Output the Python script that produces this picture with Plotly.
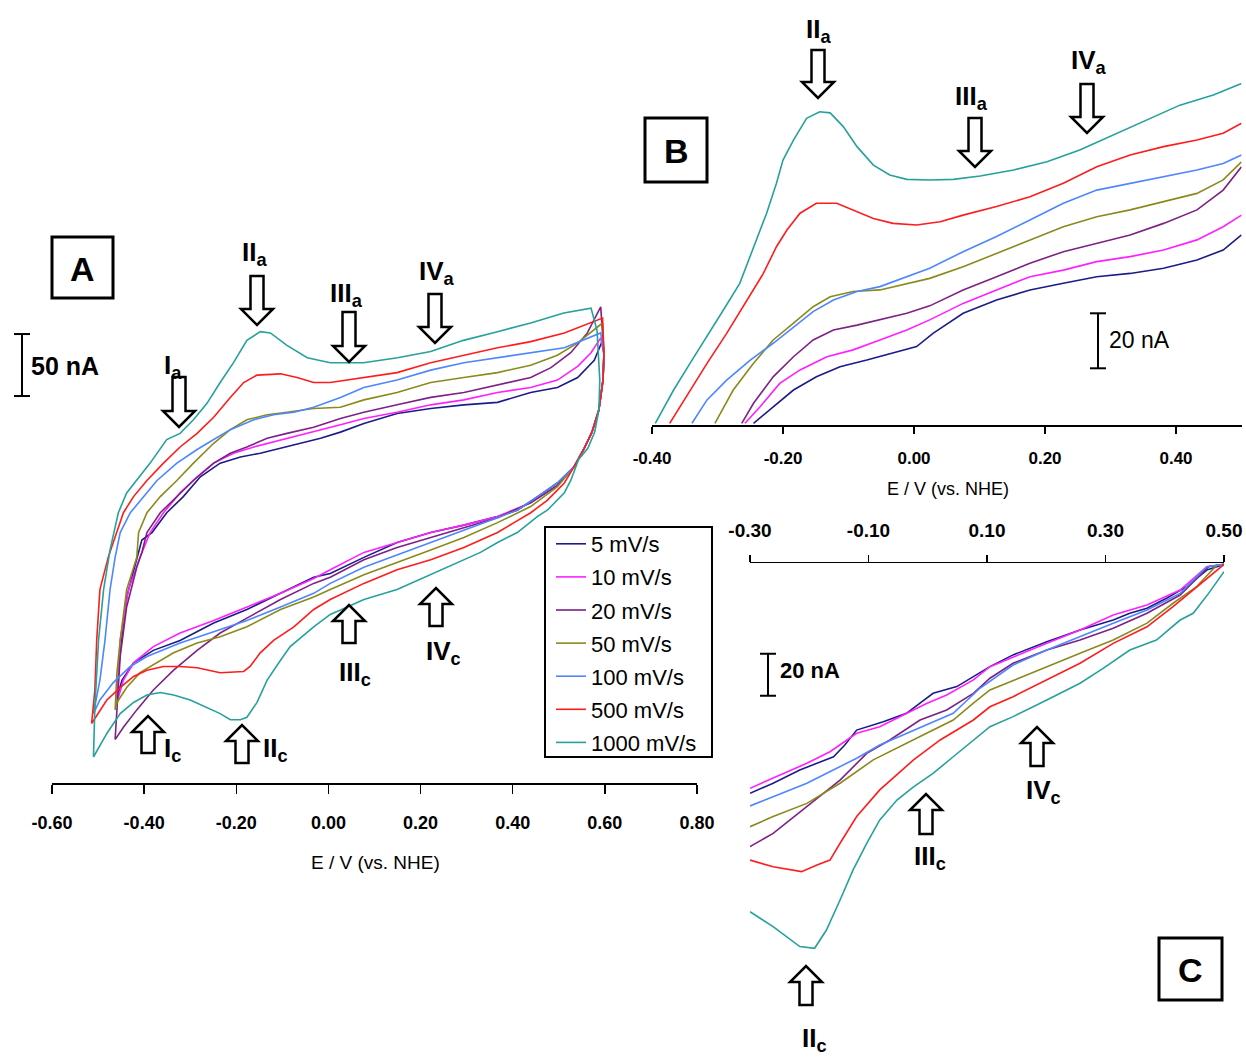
import plotly.graph_objects as go

W, H = 1246, 1059

SCAN_RATES = ["5 mV/s", "10 mV/s", "20 mV/s", "50 mV/s", "100 mV/s", "500 mV/s", "1000 mV/s"]
COLORS = ["#1c1c88", "#ff20ff", "#7e2185", "#8a8a1c", "#4d86ff", "#ff1c1c", "#26a19b"]

# ---------------- Panel A : full cyclic voltammograms (E / V, I / nA) ----------------
A_E_5 = [-0.459, -0.452, -0.438, -0.416, -0.405, -0.383, -0.351, -0.315, -0.278, -0.235, -0.191, -0.148, -0.104,
         -0.061, -0.017, 0.026, 0.077, 0.149, 0.222, 0.294, 0.367, 0.439, 0.497, 0.541, 0.577, 0.595,
         0.598, 0.596, 0.587, 0.572, 0.554,
         0.533, 0.497, 0.454, 0.410, 0.367, 0.294, 0.222, 0.149, 0.077, 0.004, -0.032, -0.104, -0.177, -0.249,
         -0.322, -0.380, -0.423, -0.448, -0.459]
A_I_5 = [-127, -89, -46, -16, 0, 6, 22, 35, 51, 62, 67, 70, 74, 78, 82, 87, 94, 102, 106, 109, 111, 119, 123, 131,
         145, 161,
         150, 129, 105, 87, 73,
         59, 46, 35, 24, 19, 12, 6, -2, -14, -27, -30, -43, -56, -67, -81, -89, -99, -113, -127]

A_E_10 = [-0.459, -0.452, -0.434, -0.409, -0.387, -0.358, -0.322, -0.285, -0.249, -0.206, -0.162, -0.119, -0.075,
          -0.032, 0.026, 0.077, 0.149, 0.222, 0.294, 0.367, 0.439, 0.497, 0.541, 0.570, 0.591,
          0.598, 0.596, 0.587, 0.572, 0.554,
          0.533, 0.497, 0.439, 0.367, 0.294, 0.222, 0.149, 0.077, 0.004, -0.032, -0.104, -0.177, -0.249, -0.322,
          -0.380, -0.423, -0.445, -0.459]
A_I_10 = [-131, -81, -40, -14, 6, 22, 38, 51, 62, 70, 75, 79, 83, 87, 93, 98, 103, 109, 113, 119, 123, 129, 140,
          151, 163,
          150, 129, 105, 87, 73,
          59, 44, 30, 19, 12, 6, -2, -10, -24, -31, -43, -54, -65, -75, -86, -99, -113, -131]

A_E_20 = [-0.463, -0.459, -0.452, -0.438, -0.416, -0.405, -0.394, -0.365, -0.329, -0.293, -0.249, -0.213, -0.177,
          -0.133, -0.090, -0.032, 0.026, 0.077, 0.149, 0.222, 0.294, 0.367, 0.439, 0.483, 0.526, 0.562, 0.591,
          0.598, 0.596, 0.587, 0.572, 0.554,
          0.533, 0.497, 0.439, 0.367, 0.294, 0.222, 0.149, 0.077, 0.004, -0.032, -0.104, -0.177, -0.235, -0.285,
          -0.336, -0.380, -0.416, -0.445, -0.463]
A_I_20 = [-161, -135, -94, -54, -22, -10, 6, 22, 35, 48, 62, 70, 75, 82, 86, 91, 98, 103, 109, 115, 119, 125, 131,
          139, 151, 167, 188,
          150, 129, 105, 87, 73,
          59, 44, 30, 18, 10, 2, -6, -16, -30, -35, -48, -63, -75, -89, -105, -121, -137, -151, -161]

A_E_50 = [-0.463, -0.459, -0.452, -0.438, -0.416, -0.412, -0.394, -0.365, -0.329, -0.293, -0.249, -0.213, -0.177,
          -0.133, -0.090, -0.032, 0.026, 0.077, 0.149, 0.222, 0.294, 0.367, 0.439, 0.497, 0.541, 0.595,
          0.598, 0.596, 0.587, 0.572, 0.554,
          0.533, 0.497, 0.439, 0.367, 0.294, 0.222, 0.149, 0.077, 0.004, -0.032, -0.104, -0.177, -0.235, -0.285,
          -0.336, -0.372, -0.409, -0.438, -0.459, -0.463]
A_I_50 = [-137, -107, -81, -40, -14, 6, 22, 35, 48, 62, 78, 89, 97, 101, 103, 106, 107, 113, 119, 127, 131, 135,
          141, 149, 159, 175,
          150, 129, 105, 87, 73,
          59, 43, 27, 14, 2, -8, -18, -28, -40, -46, -56, -70, -78, -83, -91, -99, -107, -119, -131, -137]

A_E_100 = [-0.510, -0.496, -0.485, -0.474, -0.463, -0.452, -0.430, -0.402, -0.372, -0.329, -0.285, -0.249, -0.213,
           -0.162, -0.119, -0.075, -0.032, 0.026, 0.077, 0.149, 0.222, 0.294, 0.367, 0.439, 0.512, 0.591,
           0.598, 0.596, 0.587, 0.572, 0.554,
           0.533, 0.497, 0.454, 0.410, 0.367, 0.294, 0.222, 0.149, 0.077, 0.004, -0.032, -0.104, -0.177, -0.249,
           -0.322, -0.394, -0.430, -0.467, -0.496, -0.510]
A_I_100 = [-140, -113, -81, -40, -14, 6, 22, 35, 48, 62, 73, 81, 89, 97, 101, 103, 107, 115, 123, 129, 137, 143,
           147, 151, 155, 167,
           150, 129, 105, 87, 73,
           59, 46, 35, 24, 18, 8, -2, -12, -22, -35, -43, -54, -65, -74, -83, -94, -102, -115, -129, -140]

A_E_500 = [-0.514, -0.507, -0.503, -0.496, -0.478, -0.459, -0.445, -0.423, -0.394, -0.358, -0.322, -0.285, -0.249,
           -0.213, -0.184, -0.155, -0.104, -0.068, -0.032, 0.004, 0.077, 0.149, 0.222, 0.294, 0.367, 0.439, 0.512,
           0.595,
           0.598, 0.596, 0.587, 0.572, 0.554,
           0.533, 0.512, 0.475, 0.439, 0.403, 0.367, 0.294, 0.222, 0.149, 0.077, 0.004, -0.032, -0.075, -0.119,
           -0.148, -0.170, -0.184, -0.235, -0.285, -0.322, -0.358, -0.394, -0.423, -0.452, -0.481, -0.514]
A_I_500 = [-148, -121, -81, -40, -14, 6, 22, 35, 48, 62, 75, 86, 99, 115, 127, 133, 134, 131, 127, 127, 131, 135,
           143, 149, 155, 160, 167, 179,
           150, 129, 105, 87, 73,
           59, 46, 32, 22, 14, 6, -6, -16, -24, -35, -48, -56, -70, -81, -91, -102, -106, -107, -103, -102, -102,
           -105, -110, -119, -129, -148]

A_E_1000 = [-0.510, -0.507, -0.499, -0.488, -0.474, -0.456, -0.438, -0.416, -0.387, -0.351, -0.322, -0.293, -0.264,
            -0.235, -0.206, -0.177, -0.148, -0.126, -0.090, -0.046, 0.004, 0.076, 0.150, 0.222, 0.293, 0.367, 0.439,
            0.511, 0.570,
            0.583, 0.589, 0.587, 0.578, 0.563, 0.543,
            0.526, 0.512, 0.475, 0.454, 0.410, 0.367, 0.330, 0.294, 0.258, 0.222, 0.185, 0.149, 0.113, 0.077, 0.041,
            0.004, -0.032, -0.083, -0.104, -0.133, -0.155, -0.177, -0.191, -0.213, -0.235, -0.264, -0.300, -0.336,
            -0.365, -0.394, -0.423, -0.452, -0.481, -0.510]
A_I_1000 = [-175, -135, -81, -40, -8, 22, 38, 48, 62, 81, 86, 97, 110, 127, 143, 161, 168, 167, 157, 147, 143, 143,
            147, 152, 161, 168, 175, 183, 187,
            169, 129, 105, 87, 74, 65,
            48, 38, 24, 19, 6, -2, -10, -16, -22, -28, -34, -40, -44, -48, -54, -60, -70, -86, -97, -113, -131, -143,
            -145, -145, -140, -135, -129, -125, -123, -125, -131, -140, -156, -175]

# ---------------- Panel B : anodic sweeps, magnified ----------------
B_E_5 = [-0.245, -0.215, -0.184, -0.149, -0.113, -0.072, -0.032, 0.004, 0.029, 0.075, 0.126, 0.177, 0.228, 0.279,
         0.330, 0.381, 0.432, 0.472, 0.500]
B_I_5 = [54.8, 60.8, 66.9, 71.7, 75.4, 77.8, 80.3, 82.7, 87.5, 94.8, 99.6, 103.3, 105.7, 108.1, 109.3, 111.2, 114.2,
         117.8, 123.3]
B_E_10 = [-0.258, -0.235, -0.205, -0.174, -0.133, -0.093, -0.052, -0.011, 0.024, 0.075, 0.126, 0.177, 0.228, 0.279,
          0.330, 0.381, 0.432, 0.472, 0.500]
B_I_10 = [54.8, 60.8, 69.3, 74.2, 79.0, 81.5, 85.1, 88.7, 92.4, 98.4, 103.3, 108.1, 110.5, 113.6, 115.4, 117.8,
          121.5, 126.3, 130.5]
B_E_20 = [-0.263, -0.245, -0.215, -0.184, -0.154, -0.123, -0.087, -0.052, -0.011, 0.024, 0.075, 0.126, 0.177,
          0.228, 0.279, 0.330, 0.381, 0.432, 0.472, 0.500]
B_I_20 = [54.8, 62.1, 71.7, 79.0, 85.1, 88.7, 90.5, 92.4, 94.8, 97.5, 103.3, 108.1, 113.0, 117.2, 120.3, 123.3,
          127.5, 132.4, 139.6, 148.1]
B_E_50 = [-0.304, -0.276, -0.245, -0.215, -0.184, -0.154, -0.128, -0.093, -0.052, -0.011, 0.024, 0.075, 0.126,
          0.177, 0.228, 0.279, 0.330, 0.381, 0.432, 0.472, 0.500]
B_I_50 = [54.8, 66.9, 76.6, 85.1, 91.2, 97.2, 100.8, 102.7, 103.3, 105.7, 107.5, 111.7, 116.6, 121.5, 126.3, 129.9,
          132.4, 135.4, 138.4, 143.3, 149.9]
B_E_100 = [-0.339, -0.316, -0.286, -0.250, -0.215, -0.184, -0.154, -0.123, -0.087, -0.052, -0.011, 0.024, 0.075,
           0.126, 0.177, 0.228, 0.279, 0.330, 0.381, 0.432, 0.472, 0.500]
B_I_100 = [54.8, 63.3, 70.5, 77.8, 83.9, 89.9, 95.4, 99.6, 102.7, 104.5, 108.1, 111.2, 117.2, 122.7, 128.7, 134.8,
           139.6, 142.1, 144.5, 146.9, 149.3, 152.4]
B_E_500 = [-0.373, -0.342, -0.316, -0.286, -0.255, -0.230, -0.210, -0.194, -0.174, -0.149, -0.118, -0.093, -0.062,
           -0.032, 0.004, 0.040, 0.075, 0.126, 0.177, 0.228, 0.279, 0.330, 0.381, 0.432, 0.472, 0.500]
B_I_500 = [54.8, 66.9, 76.6, 87.5, 99.6, 109.3, 119.0, 125.1, 131.2, 134.8, 134.8, 132.4, 129.3, 127.5, 126.9,
           128.1, 130.5, 133.6, 137.2, 142.1, 148.1, 152.4, 155.4, 157.8, 160.3, 163.9]
B_E_1000 = [-0.395, -0.367, -0.342, -0.316, -0.291, -0.266, -0.245, -0.225, -0.210, -0.200, -0.184, -0.164, -0.144,
            -0.128, -0.108, -0.087, -0.062, -0.037, -0.011, 0.024, 0.060, 0.101, 0.152, 0.203, 0.253, 0.304, 0.355,
            0.406, 0.457, 0.500]
B_I_1000 = [54.8, 66.9, 76.6, 86.3, 96.0, 105.7, 119.0, 131.2, 142.1, 150.5, 157.8, 165.7, 168.1, 167.7, 162.7,
            155.4, 148.7, 145.1, 143.5, 143.3, 143.5, 144.7, 146.9, 149.9, 154.2, 159.6, 165.1, 170.5, 174.2, 178.4]

# ---------------- Panel C : cathodic sweeps, magnified ----------------
C_E_5 = [0.500, 0.471, 0.437, 0.403, 0.370, 0.341, 0.313, 0.257, 0.201, 0.144, 0.105, 0.077, 0.049, 0.009, -0.036,
         -0.075, -0.120, -0.140, -0.159, -0.216, -0.261, -0.300]
C_I_5 = [36.0, 33.3, 25.4, 19.9, 15.1, 12.7, 9.5, 4.8, -0.8, -7.1, -12.7, -17.5, -22.2, -25.4, -34.9, -38.9, -42.9,
         -50.0, -55.6, -61.9, -68.2, -73.0]
C_E_10 = [0.500, 0.471, 0.426, 0.370, 0.313, 0.257, 0.201, 0.144, 0.105, 0.077, 0.032, -0.002, -0.036, -0.081,
          -0.120, -0.165, -0.204, -0.261, -0.300]
C_I_10 = [36.0, 34.9, 23.8, 16.7, 11.9, 4.8, -1.6, -8.0, -12.7, -19.0, -26.2, -30.2, -34.9, -41.3, -44.4, -53.2,
          -58.7, -65.9, -70.6]
C_E_20 = [0.500, 0.474, 0.426, 0.370, 0.313, 0.257, 0.201, 0.144, 0.105, 0.077, 0.032, -0.013, -0.064, -0.103,
          -0.148, -0.204, -0.261, -0.300]
C_I_20 = [36.0, 34.9, 21.4, 12.7, 5.6, 0.0, -4.8, -11.1, -18.2, -25.4, -33.3, -38.1, -47.6, -54.0, -66.7, -79.4,
          -92.1, -98.4]
C_E_50 = [0.500, 0.488, 0.454, 0.414, 0.370, 0.313, 0.257, 0.201, 0.144, 0.105, 0.077, 0.043, -0.002, -0.047,
          -0.092, -0.148, -0.204, -0.261, -0.300]
C_I_50 = [36.0, 35.7, 25.4, 17.5, 8.0, 0.0, -6.3, -12.7, -19.0, -23.8, -30.1, -38.1, -44.4, -50.8, -57.1, -68.2,
          -77.8, -84.1, -88.9]
C_E_100 = [0.500, 0.471, 0.426, 0.370, 0.313, 0.257, 0.201, 0.144, 0.088, 0.043, -0.002, -0.036, -0.081, -0.120,
           -0.148, -0.204, -0.261, -0.300]
C_I_100 = [36.0, 34.9, 22.2, 14.3, 8.0, 1.6, -4.8, -11.9, -23.0, -34.9, -40.5, -44.4, -50.0, -56.3, -60.3, -68.2,
           -74.6, -79.0]
C_E_500 = [0.500, 0.454, 0.414, 0.370, 0.313, 0.257, 0.201, 0.144, 0.105, 0.077, 0.021, -0.024, -0.081, -0.120,
           -0.148, -0.165, -0.187, -0.213, -0.261, -0.300]
C_I_500 = [36.0, 25.4, 15.9, 6.3, -1.6, -11.1, -19.0, -27.0, -31.8, -38.1, -47.6, -57.1, -71.4, -84.1, -96.8,
           -104.8, -107.1, -110.3, -108.0, -104.8]
C_E_1000 = [0.500, 0.474, 0.448, 0.426, 0.386, 0.341, 0.296, 0.257, 0.201, 0.144, 0.105, 0.077, 0.043, 0.009,
            -0.024, -0.052, -0.081, -0.103, -0.126, -0.148, -0.171, -0.191, -0.216, -0.261, -0.300]
C_I_1000 = [32.5, 22.2, 12.7, 9.5, 0.0, -4.8, -13.5, -20.6, -28.6, -36.5, -41.3, -47.6, -55.6, -63.5, -69.9, -76.2,
            -85.7, -96.8, -109.5, -123.8, -138.1, -146.8, -146.0, -136.5, -129.4]

A_TICKS = [-0.60, -0.40, -0.20, 0.00, 0.20, 0.40, 0.60, 0.80]
A_TICKTEXT = ["-0.60", "-0.40", "-0.20", "0.00", "0.20", "0.40", "0.60", "0.80"]
B_TICKS = [-0.40, -0.20, 0.00, 0.20, 0.40]
B_TICKTEXT = ["-0.40", "-0.20", "0.00", "0.20", "0.40"]
C_TICKS = [-0.30, -0.10, 0.10, 0.30, 0.50]
C_TICKTEXT = ["-0.30", "-0.10", "0.10", "0.30", "0.50"]

SCALE_A_NA = 50
SCALE_B_NA = 20
SCALE_C_NA = 20

A_E = [A_E_5, A_E_10, A_E_20, A_E_50, A_E_100, A_E_500, A_E_1000]
A_I = [A_I_5, A_I_10, A_I_20, A_I_50, A_I_100, A_I_500, A_I_1000]
B_E = [B_E_5, B_E_10, B_E_20, B_E_50, B_E_100, B_E_500, B_E_1000]
B_I = [B_I_5, B_I_10, B_I_20, B_I_50, B_I_100, B_I_500, B_I_1000]
C_E = [C_E_5, C_E_10, C_E_20, C_E_50, C_E_100, C_E_500, C_E_1000]
C_I = [C_I_5, C_I_10, C_I_20, C_I_50, C_I_100, C_I_500, C_I_1000]
for grp in ((A_E, A_I), (B_E, B_I), (C_E, C_I)):
    for e, i in zip(*grp):
        assert len(e) == len(i), (len(e), len(i))

SANS = "Liberation Sans, Arial, sans-serif"


def px(x):
    return x / W


def py(y):
    return 1 - y / H


fig = go.Figure()
for k, name in enumerate(SCAN_RATES):
    fig.add_trace(go.Scatter(x=A_E[k], y=A_I[k], mode="lines", name=name, legendgroup=f"g{k}",
                             line=dict(color=COLORS[k], width=1.6), xaxis="x", yaxis="y"))
for k, name in enumerate(SCAN_RATES):
    fig.add_trace(go.Scatter(x=B_E[k], y=B_I[k], mode="lines", name=name, showlegend=False, legendgroup=f"g{k}",
                             line=dict(color=COLORS[k], width=1.6), xaxis="x2", yaxis="y2"))
for k, name in enumerate(SCAN_RATES):
    fig.add_trace(go.Scatter(x=C_E[k], y=C_I[k], mode="lines", name=name, showlegend=False, legendgroup=f"g{k}",
                             line=dict(color=COLORS[k], width=1.6), xaxis="x3", yaxis="y3"))

axis_common = dict(showline=True, linecolor="black", linewidth=1.5, ticks="outside", tickcolor="black",
                   tickwidth=1.5, showgrid=False, zeroline=False, fixedrange=True, automargin=False)

fig.update_layout(
    template="none",
    width=W, height=H, margin=dict(l=0, r=0, t=0, b=0, pad=0, autoexpand=False),
    paper_bgcolor="white", plot_bgcolor="rgba(0,0,0,0)",
    xaxis=dict(domain=[px(52), px(697)], anchor="y", range=[-0.6, 0.8], tickvals=A_TICKS, ticktext=A_TICKTEXT,
               ticklen=9, ticklabelstandoff=14, tickfont=dict(family=SANS, size=18, color="black", weight="bold"),
               **axis_common),
    yaxis=dict(domain=[py(783), py(280)], anchor="x", range=[-195.97, 209.68], visible=False, automargin=False),
    xaxis2=dict(domain=[px(652), px(1241.5)], anchor="y2", range=[-0.4, 0.5], tickvals=B_TICKS,
                ticktext=B_TICKTEXT, ticklen=7, ticklabelstandoff=10,
                tickfont=dict(family=SANS, size=17, color="black", weight="bold"), **axis_common),
    yaxis2=dict(domain=[py(425), 1.0], anchor="x2", range=[54.18, 208.73], visible=False, automargin=False),
    xaxis3=dict(domain=[px(750), px(1224)], anchor="y3", side="top", range=[-0.3, 0.5], tickvals=C_TICKS,
                ticktext=C_TICKTEXT, ticklen=7, ticklabelstandoff=10,
                tickfont=dict(family=SANS, size=19, color="black", weight="bold"), **axis_common),
    yaxis3=dict(domain=[py(1050), py(563.3)], anchor="x3", range=[-195.24, 36.52], visible=False,
                automargin=False),
    legend=dict(x=px(551), y=py(523), xanchor="left", yanchor="top", bgcolor="rgba(0,0,0,0)",
                borderwidth=0, font=dict(family=SANS, size=22, color="black"), itemwidth=30,
                tracegroupgap=1.5),
    showlegend=True,
)

shapes = []
annotations = []

# legend frame
shapes.append(dict(type="rect", xref="paper", yref="paper", x0=px(545), x1=px(712), y0=py(527), y1=py(757),
                   line=dict(color="black", width=2), fillcolor="white", layer="below"))


def arrow(cx, y_base, y_tip, head_w=32, shaft_w=13, head_len=16):
    d = 1 if y_tip > y_base else -1
    y_neck = y_tip - d * head_len
    pts = [(cx - shaft_w / 2, y_base), (cx + shaft_w / 2, y_base), (cx + shaft_w / 2, y_neck),
           (cx + head_w / 2, y_neck), (cx, y_tip), (cx - head_w / 2, y_neck), (cx - shaft_w / 2, y_neck)]
    path = "M " + " L ".join(f"{px(x):.5f},{py(y):.5f}" for x, y in pts) + " Z"
    shapes.append(dict(type="path", path=path, xref="paper", yref="paper", fillcolor="white",
                       line=dict(color="black", width=2.5), layer="above"))


def label(text, x, y, size=26, bold=True, xanchor="center", family=SANS):
    annotations.append(dict(text=(f"<b>{text}</b>" if bold else text), x=px(x), y=py(y), xref="paper",
                            yref="paper", showarrow=False, xanchor=xanchor, yanchor="middle",
                            font=dict(family=family, size=size, color="black")))


# Arrows: (centre x, base y, tip y) in figure pixels
ARROWS = [
    (179, 377, 427), (257, 276, 325), (349, 312, 362), (435, 294, 343),      # A anodic
    (148, 753, 716), (242, 763, 725), (349, 643, 605), (436, 626, 588),      # A cathodic
    (818, 50, 98), (975, 118, 167), (1087, 84, 133),                          # B
    (806, 1005, 966), (926, 834, 794), (1037, 766, 727),                      # C
]
for a in ARROWS:
    arrow(*a)

PEAK_LABELS = [
    ("I<sub>a</sub>", 173, 366), ("II<sub>a</sub>", 254, 254), ("III<sub>a</sub>", 346, 294),
    ("IV<sub>a</sub>", 437, 272),
    ("I<sub>c</sub>", 172, 749), ("II<sub>c</sub>", 275, 749), ("III<sub>c</sub>", 355, 673),
    ("IV<sub>c</sub>", 443, 652),
    ("II<sub>a</sub>", 818, 30), ("III<sub>a</sub>", 971, 97), ("IV<sub>a</sub>", 1089, 62),
    ("II<sub>c</sub>", 814, 1039), ("III<sub>c</sub>", 930, 857), ("IV<sub>c</sub>", 1043, 791),
]
for t, x, y in PEAK_LABELS:
    label(t, x, y, size=26)

# Panel letter boxes
for letter, (x0, y0, x1, y1) in [("A", (52, 237, 113, 298)), ("B", (645, 118, 707, 182)),
                                  ("C", (1159, 938, 1222, 1000))]:
    shapes.append(dict(type="rect", xref="paper", yref="paper", x0=px(x0), x1=px(x1), y0=py(y0), y1=py(y1),
                       line=dict(color="black", width=3), fillcolor="white", layer="above"))
    label(letter, (x0 + x1) / 2, (y0 + y1) / 2 + 1, size=34)


# Scale bars (drawn in data units of each panel)
def scale_bar(xc, yref, y_bottom, height, cap=8):
    for (xa, xb, ya, yb) in [(xc, xc, y_bottom, y_bottom + height),
                             (xc - cap, xc + cap, y_bottom, y_bottom),
                             (xc - cap, xc + cap, y_bottom + height, y_bottom + height)]:
        shapes.append(dict(type="line", xref="paper", yref=yref, x0=px(xa), x1=px(xb), y0=ya, y1=yb,
                           line=dict(color="black", width=2)))


scale_bar(22, "y", 116.1, SCALE_A_NA)
scale_bar(1098, "y2", 74.8, SCALE_B_NA)
scale_bar(768, "y3", -26.5, SCALE_C_NA)
label(f"{SCALE_A_NA} nA", 29, 366, size=25, xanchor="left")
label(f"{SCALE_B_NA} nA", 1107, 340, size=23, bold=False, xanchor="left")
label(f"{SCALE_C_NA} nA", 778, 670, size=22, xanchor="left")

# Axis titles
label("E / V (vs. NHE)", 376, 862, size=19, bold=False)
label("E / V (vs. NHE)", 948, 489, size=18, bold=False)

fig.update_layout(shapes=shapes, annotations=annotations)
fig.write_html("out.html", config={"displayModeBar": False, "staticPlot": True},
               post_script="document.body.style.margin='0px';document.body.style.overflow='hidden';")
